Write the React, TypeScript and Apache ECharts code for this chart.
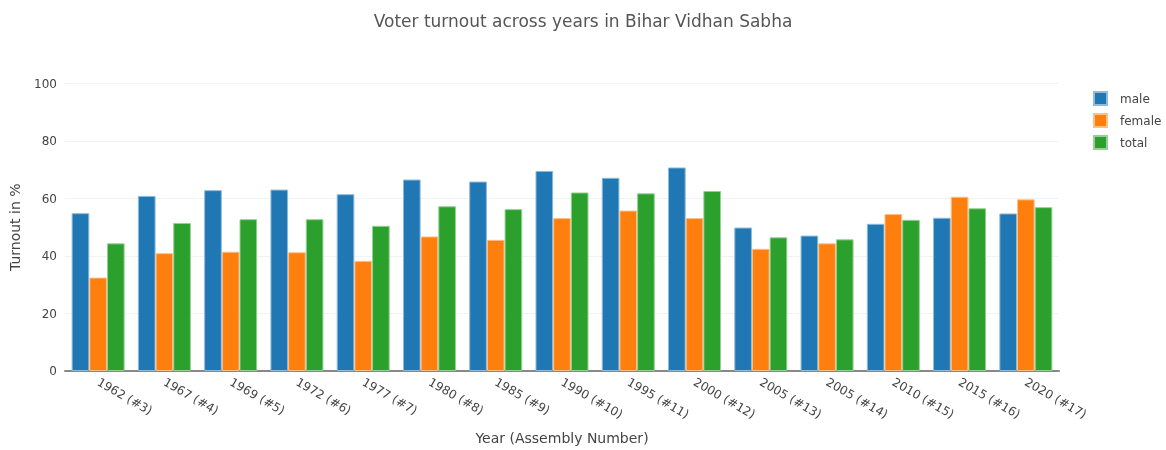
import React, { useEffect, useRef } from "react";
import * as echarts from "echarts";

const categories = [
  "1962 (#3)", "1967 (#4)", "1969 (#5)", "1972 (#6)", "1977 (#7)",
  "1980 (#8)", "1985 (#9)", "1990 (#10)", "1995 (#11)", "2000 (#12)",
  "2005 (#13)", "2005 (#14)", "2010 (#15)", "2015 (#16)", "2020 (#17)",
];
const male = [54.9, 60.9, 62.9, 63.1, 61.5, 66.6, 65.9, 69.6, 67.2, 70.8, 49.9, 47.1, 51.2, 53.3, 54.8];
const female = [32.5, 41.0, 41.5, 41.3, 38.3, 46.8, 45.6, 53.2, 55.8, 53.2, 42.5, 44.4, 54.6, 60.6, 59.7];
const total = [44.4, 51.5, 52.8, 52.8, 50.5, 57.3, 56.3, 62.1, 61.8, 62.6, 46.5, 45.8, 52.6, 56.6, 57.0];

const FONT = "'DejaVu Sans', Verdana, sans-serif";

export default function App() {
  const ref = useRef<HTMLDivElement>(null);
  useEffect(() => {
    if (!ref.current) return;
    const chart = echarts.init(ref.current, undefined, { renderer: "svg" });
    const mk = (name: string, data: number[], color: string, border: string) => ({
      name,
      type: "bar",
      data,
      barGap: "0%",
      barCategoryGap: "20%",
      itemStyle: { color, borderColor: border, borderWidth: 1 },
    });
    chart.setOption({
      animation: false,
      textStyle: { fontFamily: FONT, color: "#444" },
      title: {
        text: "Voter turnout across years in Bihar Vidhan Sabha",
        left: "center",
        top: 7,
        textStyle: { fontFamily: FONT, fontSize: 17, fontWeight: "normal", color: "#555" },
      },
      legend: {
        orient: "vertical",
        left: 1093,
        top: 91,
        padding: 0,
        itemWidth: 13,
        itemHeight: 13,
        itemGap: 7,
        icon: "rect",
        textStyle: { fontFamily: FONT, fontSize: 12, color: "#444", padding: [0, 0, 0, 8] },
        data: ["male", "female", "total"],
      },
      grid: { left: 63, right: 107, top: 83.5, bottom: 74, containLabel: false },
      xAxis: {
        type: "category",
        data: categories,
        name: "Year (Assembly Number)",
        nameLocation: "middle",
        nameGap: 60,
        nameTextStyle: { fontFamily: FONT, fontSize: 14, color: "#444" },
        axisLine: { lineStyle: { color: "#888", width: 2 } },
        axisTick: { show: false },
        axisLabel: { rotate: -30, margin: 10, fontFamily: FONT, fontSize: 12, color: "#444" },
      },
      yAxis: {
        type: "value",
        min: 0,
        max: 100,
        interval: 20,
        name: "Turnout in %",
        nameLocation: "middle",
        nameGap: 43,
        nameTextStyle: { fontFamily: FONT, fontSize: 14, color: "#444" },
        axisLine: { show: false },
        axisTick: { show: false },
        axisLabel: { fontFamily: FONT, fontSize: 12, color: "#444", margin: 8 },
        splitLine: { lineStyle: { color: "#f2f2f2", width: 1 } },
      },
      series: [
        mk("male", male, "#1f77b4", "#8fbbdc"),
        mk("female", female, "#ff7f0e", "#ffbf87"),
        mk("total", total, "#2ca02c", "#96d096"),
      ],
    });
    return () => chart.dispose();
  }, []);
  return (
    <div
      ref={ref}
      style={{ position: "fixed", left: 0, top: 0, width: 1166, height: 450 }}
    />
  );
}
